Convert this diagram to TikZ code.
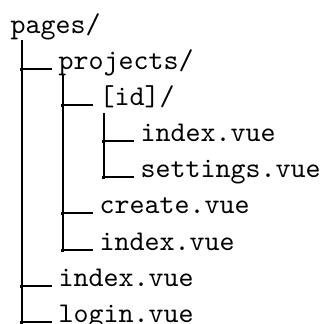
\documentclass[tikz,border=0pt]{standalone}
\usepackage{tikz}
\usetikzlibrary{calc}

\tikzset{
  entry/.style={anchor=base west,inner sep=0pt,font=\ttfamily},
  branch/.style={line width=0.4pt},
}

\begin{document}
\begin{tikzpicture}[x=0.35pt,y=-0.35pt]
      \useasboundingbox (0,0) rectangle (323,324);
      % Set up the entries of the tree
      \node[entry] (pages)     at (10,33)  {pages/};
      \node[entry] (projects)  at (58,69)  {projects/};
      \node[entry] (id)        at (99,105) {[id]/};
      \node[entry] (idindex)   at (140,141) {index.vue};
      \node[entry] (settings)  at (140,177) {settings.vue};
      \node[entry] (create)    at (99,213) {create.vue};
      \node[entry] (projindex) at (99,250) {index.vue};
      \node[entry] (index)     at (58,286) {index.vue};
      \node[entry] (login)     at (58,322) {login.vue};
      \coordinate (pagesstem)    at (22,40);
      \coordinate (projectsstem) at (63,75);
      \coordinate (idstem)       at (104,113);
      % Branches with a dot at each junction
      \foreach \stem/\kids in {pagesstem/{projects,index,login},
          projectsstem/{id,create,projindex},idstem/{idindex,settings}} {
        \foreach \c in \kids {
          \draw[branch] (\stem) |- ($(\c.base west)+(-6,0)$);
          \fill (\stem |- \c.base) +(-1.5,-1.5) rectangle +(1.5,1.5);
        }
      }
    \end{tikzpicture}
\end{document}
